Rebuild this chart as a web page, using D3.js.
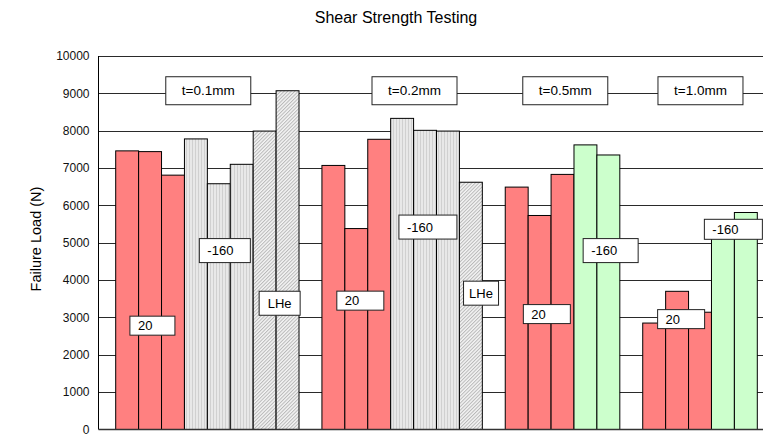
<!DOCTYPE html>
<html>
<head>
<meta charset="utf-8">
<script src="https://cdn.jsdelivr.net/npm/d3@7"></script>
<style>
  body { margin: 0; background: #fff; }
  svg { display: block; font-family: "Liberation Sans", Arial, sans-serif; }
</style>
</head>
<body>
<script>
(function () {

//chart values
var groups = ["t=0.1mm", "t=0.2mm", "t=0.5mm", "t=1.0mm"];
var seriesNames = ["20", "-160", "LHe"];
var load20 = [[7460, 7440, 6810], [7070, 5380, 7770], [6490, 5730, 6830], [2850, 3700, 3140]];
var loadMinus160 = [[7780, 6580, 7100], [8330, 8010, 7990], [7620, 7350], [5450, 5810]];
var loadLHe = [[7990, 9070], [6620], [], []];
var yTickValues = [0, 1000, 2000, 3000, 4000, 5000, 6000, 7000, 8000, 9000, 10000];

//annotation boxes: slot offset inside group, value at box centre, box size
var thicknessBoxes = [
    {g: 0, cx: 4.04, v: 9070, w: 85, h: 28},
    {g: 1, cx: 4.04, v: 9070, w: 85, h: 28},
    {g: 2, cx: 2.62, v: 9070, w: 85, h: 28},
    {g: 3, cx: 2.52, v: 9070, w: 85, h: 28}
];
var seriesBoxes = [
    {g: 0, s: "20", left: 0.62, v: 2780, w: 45, h: 19, anchor: "start"},
    {g: 0, s: "-160", left: 3.65, v: 4790, w: 51, h: 24, anchor: "start"},
    {g: 0, s: "LHe", left: 6.26, v: 3380, w: 41, h: 24, anchor: "middle"},
    {g: 1, s: "20", left: 0.65, v: 3450, w: 47, h: 19, anchor: "start"},
    {g: 1, s: "-160", left: 3.36, v: 5420, w: 58, h: 24, anchor: "start"},
    {g: 1, s: "LHe", left: 6.18, v: 3650, w: 35, h: 24, anchor: "middle"},
    {g: 2, s: "20", left: 0.79, v: 3090, w: 47, h: 19, anchor: "start"},
    {g: 2, s: "-160", left: 3.40, v: 4790, w: 55, h: 24, anchor: "start"},
    {g: 3, s: "20", left: 0.65, v: 2955, w: 47, h: 19, anchor: "start"},
    {g: 3, s: "-160", left: 2.69, v: 5360, w: 58, h: 20, anchor: "start"}
];

var width = 763, height = 434;
var axisX = 98.5, baseY = 429.5, topY = 56;

var svg = d3.select("body").append("svg")
    .attr("width", width)
    .attr("height", height);

//fill patterns
var defs = svg.append("defs");
var vs = defs.append("pattern")
    .attr("id", "vstripe")
    .attr("patternUnits", "userSpaceOnUse")
    .attr("width", 3).attr("height", 4);
vs.append("rect").attr("width", 3).attr("height", 4).attr("fill", "#E8E8E8");
vs.append("rect").attr("x", 0).attr("width", 1).attr("height", 4).attr("fill", "#D0D0D0");

var hatch = defs.append("pattern")
    .attr("id", "hatch")
    .attr("patternUnits", "userSpaceOnUse")
    .attr("width", 2.5).attr("height", 2.5)
    .attr("patternTransform", "rotate(45)");
hatch.append("rect").attr("width", 2.5).attr("height", 2.5).attr("fill", "#F4F4F4");
hatch.append("rect").attr("width", 1).attr("height", 2.5).attr("fill", "#B8B8B8");

//build bar rows and slots (one empty slot between groups)
var bars = [], slots = [], groupStart = [];
groups.forEach(function (gName, g) {
    groupStart.push(slots.length);
    [load20[g], loadMinus160[g], loadLHe[g]].forEach(function (vals, s) {
        vals.forEach(function (v) {
            var key = "s" + slots.length;
            slots.push(key);
            bars.push({group: g, series: seriesNames[s], value: v, slot: key});
        });
    });
    if (g < groups.length - 1) slots.push("s" + slots.length);
});

var x = d3.scaleBand()
    .domain(slots)
    .range([115.7, 757.3])
    .paddingInner(0)
    .paddingOuter(0);

var y = d3.scaleLinear()
    .domain([0, 10000])
    .range([baseY, topY]);

function slotX(g, offset) {
    return x(slots[groupStart[g]]) + offset * x.bandwidth();
}

function barFill(d) {
    if (d.series == "20") return "#FF8080";
    if (d.series == "-160") return d.group < 2 ? "url(#vstripe)" : "#CCFFCC";
    return "url(#hatch)";
}

//title
svg.append("text")
    .attr("x", 396)
    .attr("y", 23)
    .attr("text-anchor", "middle")
    .attr("font-size", "16px")
    .attr("fill", "#000")
    .text("Shear Strength Testing");

//y axis title
svg.append("text")
    .attr("transform", "translate(41," + y(5100) + ") rotate(-90)")
    .attr("text-anchor", "middle")
    .attr("font-size", "14.5px")
    .attr("fill", "#000")
    .text("Failure Load (N)");

//gridlines
svg.append("g")
    .attr("class", "grid")
    .selectAll("line")
    .data(yTickValues.slice(1))
    .enter()
    .append("line")
    .attr("x1", axisX).attr("x2", width)
    .attr("y1", function (d) { return Math.round(y(d)) + 0.5; })
    .attr("y2", function (d) { return Math.round(y(d)) + 0.5; })
    .attr("stroke", "#2a2a2a")
    .attr("stroke-width", 1);

//y axis
var yAxis = d3.axisLeft(y)
    .tickValues(yTickValues)
    .tickSize(0)
    .tickPadding(9)
    .tickFormat(d3.format("d"));

var axis = svg.append("g")
    .attr("transform", "translate(" + axisX + ",0)")
    .call(yAxis);
axis.select(".domain").attr("stroke", "#000").attr("d", "M0," + topY + "V" + baseY);
axis.selectAll("text")
    .attr("font-size", "12px")
    .attr("font-family", "'Liberation Sans', Arial, sans-serif")
    .attr("fill", "#111");

//bars
svg.append("g")
    .selectAll(".bar")
    .data(bars)
    .enter()
    .append("rect")
    .attr("class", "bar")
    .attr("x", function (d) { return x(d.slot); })
    .attr("width", x.bandwidth())
    .attr("y", function (d) { return y(d.value); })
    .attr("height", function (d) { return baseY - y(d.value); })
    .attr("fill", barFill)
    .attr("stroke", "#000")
    .attr("stroke-width", 1);

//baseline
svg.append("line")
    .attr("x1", axisX).attr("x2", width)
    .attr("y1", baseY).attr("y2", baseY)
    .attr("stroke", "#333")
    .attr("stroke-width", 1.5);

//thickness boxes
var tb = svg.append("g").selectAll("g")
    .data(thicknessBoxes)
    .enter()
    .append("g")
    .attr("transform", function (d) {
        return "translate(" + (slotX(d.g, d.cx) - d.w / 2) + "," + (y(d.v) - d.h / 2) + ")";
    });
tb.append("rect")
    .attr("width", function (d) { return d.w; })
    .attr("height", function (d) { return d.h; })
    .attr("fill", "#fff")
    .attr("stroke", "#222");
tb.append("text")
    .attr("x", function (d) { return d.w / 2; })
    .attr("y", function (d) { return d.h / 2 + 4.7; })
    .attr("text-anchor", "middle")
    .attr("font-size", "13.5px")
    .text(function (d) { return groups[d.g]; });

//series boxes
var sb = svg.append("g").selectAll("g")
    .data(seriesBoxes)
    .enter()
    .append("g")
    .attr("transform", function (d) {
        return "translate(" + slotX(d.g, d.left) + "," + (y(d.v) - d.h / 2) + ")";
    });
sb.append("rect")
    .attr("width", function (d) { return d.w; })
    .attr("height", function (d) { return d.h; })
    .attr("fill", "#fff")
    .attr("stroke", "#222");
sb.append("text")
    .attr("x", function (d) { return d.anchor == "middle" ? d.w / 2 : 8; })
    .attr("y", function (d) { return d.h / 2 + 4.5; })
    .attr("text-anchor", function (d) { return d.anchor; })
    .attr("font-size", "13px")
    .text(function (d) { return d.s; });

})();
</script>
</body>
</html>
